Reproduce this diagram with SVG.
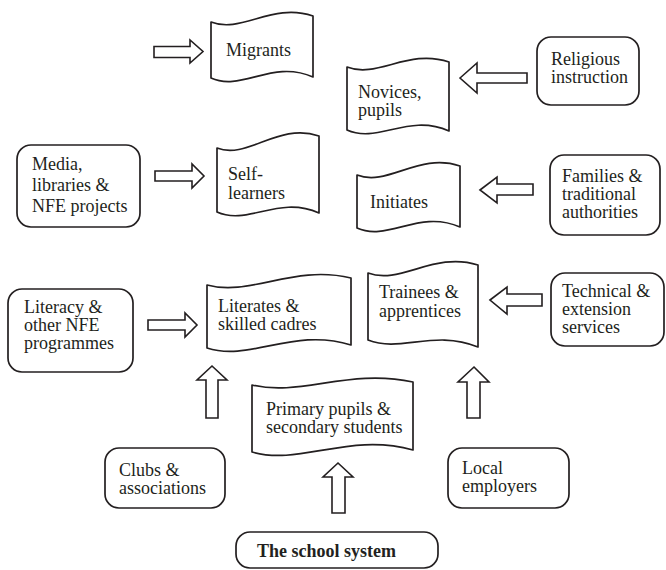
<svg xmlns="http://www.w3.org/2000/svg" width="666" height="570" viewBox="0 0 666 570">
<style>
  .shape { fill: #fff; stroke: #231f20; stroke-width: 1.7; stroke-linejoin: round; }
  .arrow { fill: #fff; stroke: #231f20; stroke-width: 1.6; stroke-linejoin: miter; }
  .t { font-family: 'Liberation Serif', 'DejaVu Serif', 'Times New Roman', serif; font-size: 18px; fill: #231f20; }
  .bold { font-weight: bold; }
</style>
<rect width="666" height="570" fill="#fff"/>

<g id="connectors">
  <polygon class="arrow" points="154,46.5 190,46.5 190,40 203,51.5 190,63 190,57.5 154,57.5"/>
  <polygon class="arrow" points="155,171 192,171 192,164 204,176 192,188 192,181 155,181"/>
  <polygon class="arrow" points="148,320 185,320 185,313 197,325 185,337 185,330 148,330"/>
  <polygon class="arrow" points="460,78 477,63 477,73 527,73 527,83 477,83 477,93"/>
  <polygon class="arrow" points="480,190 497,177 497,184 533,184 533,195 497,195 497,203"/>
  <polygon class="arrow" points="490,300 507,287 507,294 542,294 542,306 507,306 507,314"/>
  <polygon class="arrow" points="212,366 227,380 218,380 218,418 206,418 206,380 197,380"/>
  <polygon class="arrow" points="474,367 489,382 480,382 480,418 467,418 467,382 458,382"/>
  <polygon class="arrow" points="338,463 353,477 345,477 345,513 332,513 332,477 323,477"/>
</g>

<g id="migrants">
  <path class="shape" d="M211,22 C241.6,34 272.2,2 313,16 L313,77 C272.2,59 241.6,92 211,78 Z"/>
  <text class="t" x="226" y="56">Migrants</text>
</g>

<g id="novices">
  <path class="shape" d="M347,67 C377.6,79 408.2,48 449,62 L449,131 C408.2,113 377.6,144 347,130 Z"/>
  <text class="t" x="358" y="98">Novices,</text>
  <text class="t" x="358" y="116">pupils</text>
</g>

<g id="religious">
  <rect class="shape" x="537" y="37" width="102" height="68" rx="14" ry="14"/>
  <text class="t" x="551" y="65">Religious</text>
  <text class="t" x="551" y="83">instruction</text>
</g>

<g id="media">
  <rect class="shape" x="17" y="145" width="123" height="82" rx="14" ry="14"/>
  <text class="t" x="32" y="170">Media,</text>
  <text class="t" x="32" y="191">libraries &amp;</text>
  <text class="t" x="32" y="212">NFE projects</text>
</g>

<g id="self-learners">
  <path class="shape" d="M217,148 C247.6,160 278.2,122 319,136 L319,213 C278.2,195 247.6,226 217,212 Z"/>
  <text class="t" x="228" y="180">Self-</text>
  <text class="t" x="228" y="199">learners</text>
</g>

<g id="initiates">
  <path class="shape" d="M357,175 C387.9,187 418.8,152 460,166 L460,227 C418.8,209 387.9,242 357,228 Z"/>
  <text class="t" x="370" y="208">Initiates</text>
</g>

<g id="families">
  <rect class="shape" x="550" y="155" width="110" height="80" rx="14" ry="14"/>
  <text class="t" x="562" y="182">Families &amp;</text>
  <text class="t" x="562" y="200">traditional</text>
  <text class="t" x="562" y="218">authorities</text>
</g>

<g id="literacy">
  <rect class="shape" x="8" y="289" width="125" height="83" rx="14" ry="14"/>
  <text class="t" x="24" y="313">Literacy &amp;</text>
  <text class="t" x="24" y="331">other NFE</text>
  <text class="t" x="24" y="349">programmes</text>
</g>

<g id="literates">
  <path class="shape" d="M207,285 C250.2,297 293.4,264 351,278 L351,345 C293.4,327 250.2,362 207,348 Z"/>
  <text class="t" x="218" y="312">Literates &amp;</text>
  <text class="t" x="218" y="330">skilled cadres</text>
</g>

<g id="trainees">
  <path class="shape" d="M368,273 C401,285 434,251 478,265 L478,347 C434,329 401,353 368,340 Z"/>
  <text class="t" x="379" y="298">Trainees &amp;</text>
  <text class="t" x="379" y="317">apprentices</text>
</g>

<g id="technical">
  <rect class="shape" x="551" y="273" width="113" height="73" rx="14" ry="14"/>
  <text class="t" x="562" y="297">Technical &amp;</text>
  <text class="t" x="562" y="315">extension</text>
  <text class="t" x="562" y="333">services</text>
</g>

<g id="primary">
  <path class="shape" d="M252,385 C300.3,397 348.6,368 413,382 L413,450 C348.6,432 300.3,466 252,452 Z"/>
  <text class="t" x="266" y="415">Primary pupils &amp;</text>
  <text class="t" x="266" y="433">secondary students</text>
</g>

<g id="clubs">
  <rect class="shape" x="105" y="448" width="120" height="60" rx="14" ry="14"/>
  <text class="t" x="119" y="476">Clubs &amp;</text>
  <text class="t" x="119" y="494">associations</text>
</g>

<g id="local-employers">
  <rect class="shape" x="448" y="448" width="121" height="60" rx="14" ry="14"/>
  <text class="t" x="462" y="474">Local</text>
  <text class="t" x="462" y="492">employers</text>
</g>

<g id="school-system">
  <rect class="shape" x="236" y="532" width="202" height="36" rx="14" ry="14"/>
  <text class="t bold" x="257" y="557">The school system</text>
</g>
</svg>
